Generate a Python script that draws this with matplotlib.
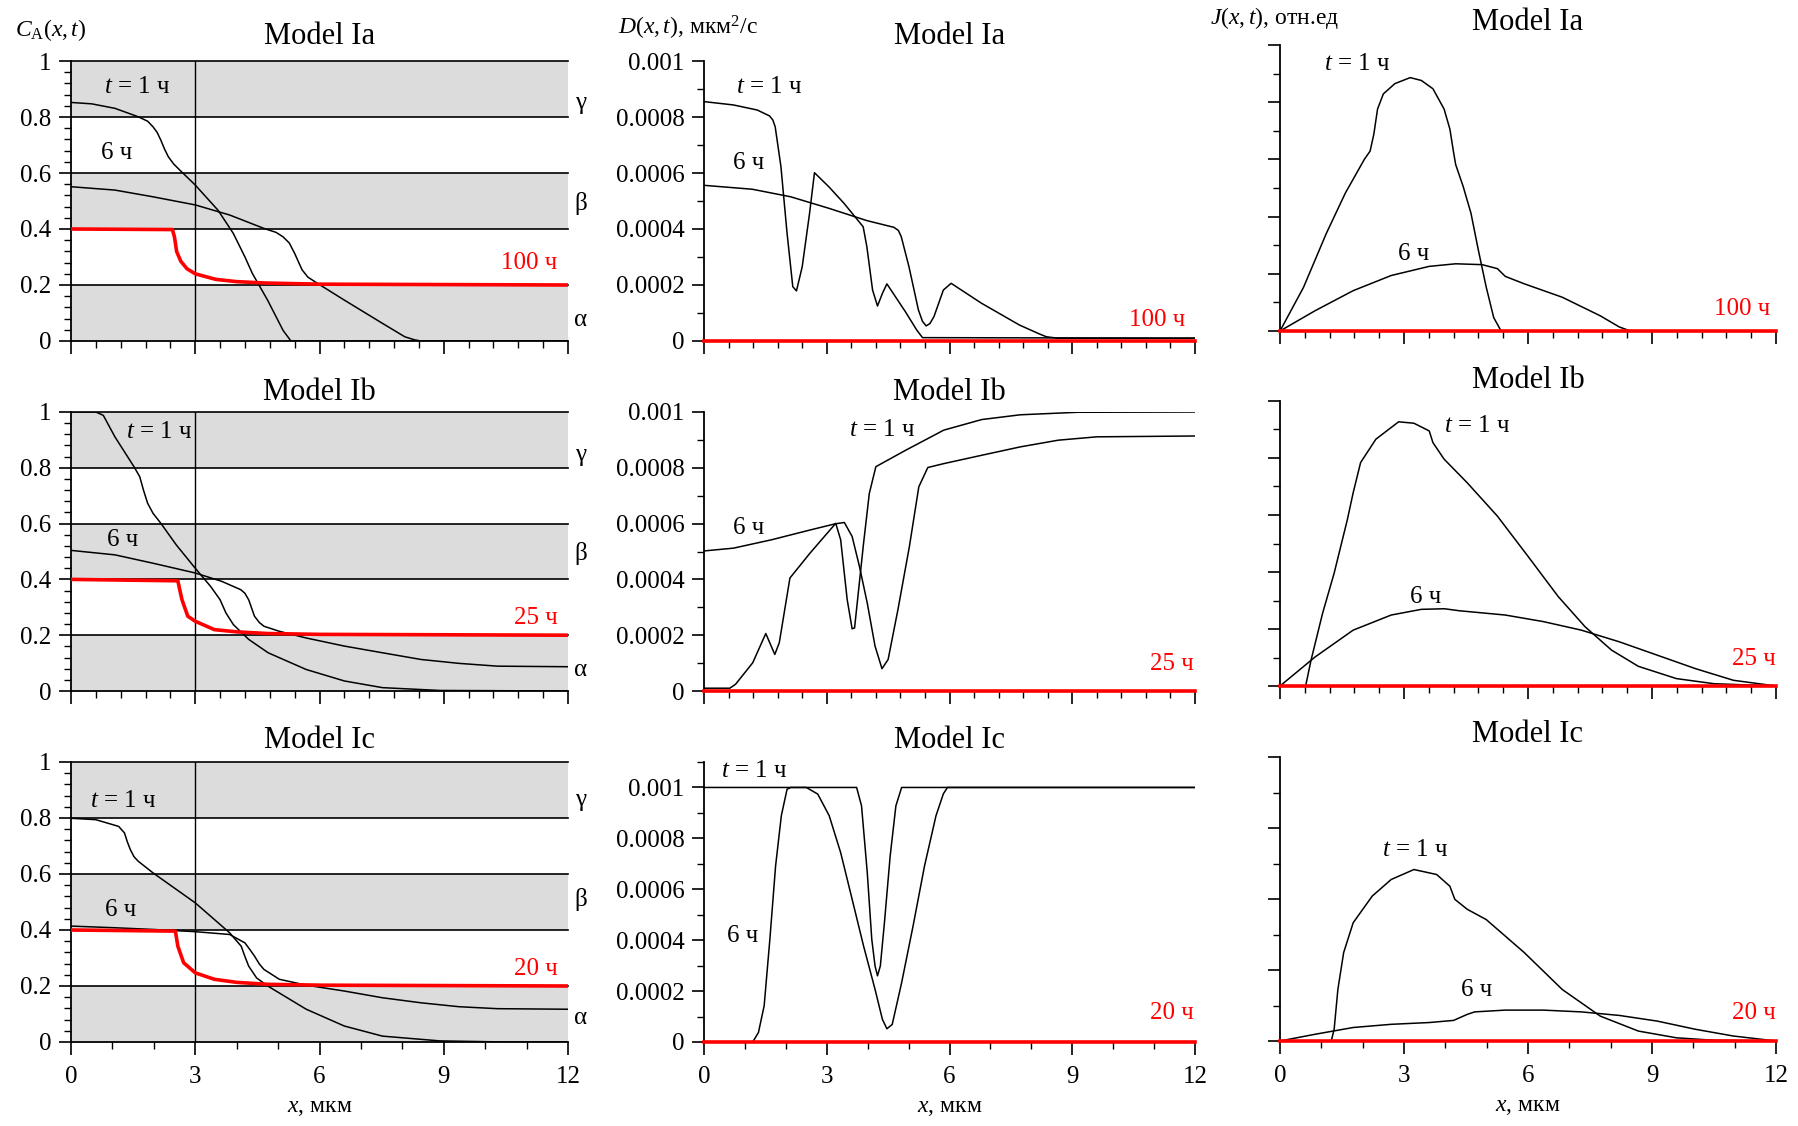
import numpy as np
import matplotlib.pyplot as plt
from matplotlib.ticker import MultipleLocator, FuncFormatter

plt.rcParams['font.family'] = ['Liberation Serif', 'DejaVu Serif']
plt.rcParams['mathtext.fontset'] = 'custom'
plt.rcParams['mathtext.rm'] = 'Liberation Serif'
plt.rcParams['mathtext.it'] = 'Liberation Serif:italic'

# ---------------- концентрация C_A(x,t) ----------------
ca_ia_1h_x = [0, 0.5, 1.06, 1.62, 1.85, 1.98, 2.08, 2.17, 2.26, 2.35, 2.48, 2.63, 3.0, 3.55, 3.92, 4.2, 4.38, 4.75, 5.12, 5.31, 12]
ca_ia_1h_y = [0.852, 0.847, 0.831, 0.801, 0.785, 0.765, 0.745, 0.717, 0.685, 0.658, 0.632, 0.610, 0.557, 0.467, 0.384,
              0.300, 0.241, 0.145, 0.038, 0.0, 0.0]
ca_ia_6h_x = [0, 1.06, 1.98, 3.0, 3.83, 4.66, 4.95, 5.12, 5.27, 5.4, 5.5, 5.58, 5.72, 5.95, 6.6, 7.52, 8.06, 8.3, 8.45, 12]
ca_ia_6h_y = [0.551, 0.539, 0.515, 0.486, 0.45, 0.402, 0.388, 0.372, 0.35, 0.313, 0.28, 0.254, 0.228, 0.206, 0.146,
              0.063, 0.015, 0.004, 0.0, 0.0]
ca_ia_100h_x = [0, 2.45, 2.5, 2.55, 2.65, 2.8, 3.0, 3.5, 4.0, 4.7, 6, 12]
ca_ia_100h_y = [0.40, 0.398, 0.37, 0.32, 0.285, 0.258, 0.24, 0.22, 0.212, 0.207, 0.203, 0.2]

ca_ib_1h_x = [0, 0.6, 0.78, 1.06, 1.52, 1.66, 1.75, 1.85, 1.98, 2.17, 2.54, 3.0, 3.37, 3.6, 3.74, 3.92, 4.29, 4.76,
              5.68, 6.6, 7.52, 8.9, 12]
ca_ib_1h_y = [1.0, 1.0, 0.988, 0.911, 0.804, 0.768, 0.72, 0.673, 0.637, 0.601, 0.524, 0.44, 0.375, 0.327, 0.28, 0.238,
              0.185, 0.137, 0.077, 0.036, 0.012, 0.002, 0.0]
ca_ib_6h_x = [0, 1.06, 1.98, 3.0, 3.64, 4.1, 4.2, 4.29, 4.43, 4.55, 4.66, 5.03, 5.68, 6.6, 7.52, 8.45, 9.37, 10.3, 12]
ca_ib_6h_y = [0.504, 0.488, 0.458, 0.423, 0.393, 0.363, 0.35, 0.327, 0.268, 0.245, 0.232, 0.214, 0.19, 0.161, 0.137,
              0.113, 0.099, 0.089, 0.087]
ca_ib_25h_x = [0, 2.58, 2.63, 2.68, 2.82, 3.0, 3.46, 4.0, 4.75, 6, 12]
ca_ib_25h_y = [0.40, 0.395, 0.36, 0.327, 0.268, 0.25, 0.22, 0.212, 0.206, 0.203, 0.2]

ca_ic_1h_x = [0, 0.6, 1.15, 1.29, 1.36, 1.43, 1.52, 1.62, 1.98, 3.0, 3.83, 4.11, 4.2, 4.29, 4.48, 4.75, 5.68, 6.6,
              7.52, 8.9, 10.5, 12]
ca_ic_1h_y = [0.799, 0.794, 0.77, 0.747, 0.715, 0.688, 0.662, 0.646, 0.604, 0.497, 0.39, 0.342, 0.305, 0.271, 0.229,
              0.2, 0.117, 0.057, 0.021, 0.004, 0.0, 0.0]
ca_ic_6h_x = [0, 1.06, 1.98, 3.0, 3.83, 4.2, 4.32, 4.43, 4.55, 4.66, 5.03, 5.68, 6.6, 7.52, 8.45, 9.37, 10.3, 12]
ca_ic_6h_y = [0.414, 0.408, 0.402, 0.394, 0.384, 0.354, 0.33, 0.307, 0.278, 0.259, 0.224, 0.203, 0.182, 0.158, 0.14,
              0.126, 0.119, 0.117]
ca_ic_20h_x = [0, 2.52, 2.58, 2.72, 3.0, 3.46, 4.0, 4.75, 6, 12]
ca_ic_20h_y = [0.40, 0.396, 0.342, 0.283, 0.247, 0.224, 0.213, 0.206, 0.203, 0.2]

# ---------------- коэффициент диффузии D(x,t), мкм^2/с ----------------
d_ia_1h_x = [0, 0.72, 1.3, 1.6, 1.68, 1.74, 1.88, 2.03, 2.17, 2.26, 2.4, 2.58, 2.7, 3.05, 3.42, 3.89, 3.98, 4.12, 4.24,
             4.36, 4.47, 4.92, 5.2, 5.34, 12]
d_ia_1h_y = [0.000855, 0.000843, 0.000825, 0.000804, 0.00079, 0.000765, 0.000623, 0.000385, 0.000194, 0.000179, 0.000265,
             0.000456, 0.000601, 0.000551, 0.000492, 0.000408, 0.000337, 0.000182, 0.000125, 0.00017, 0.000204, 0.000105,
             0.000039, 0.000012, 0.00001]
d_ia_6h_x = [0, 1.18, 2.12, 3.05, 3.98, 4.64, 4.75, 4.82, 5.01, 5.24, 5.34, 5.43, 5.52, 5.62, 5.85, 6.04, 6.78, 7.71,
             8.2, 8.37, 8.65, 12]
d_ia_6h_y = [0.000556, 0.000542, 0.000515, 0.000474, 0.00043, 0.000406, 0.000395, 0.000373, 0.000265, 0.000111, 0.00007,
             0.000054, 0.000062, 0.000087, 0.000182, 0.000206, 0.000135, 0.000057, 0.000025, 0.000015, 0.00001, 0.00001]

d_ib_1h_x = [0, 0.63, 0.77, 1.19, 1.51, 1.73, 1.84, 2.1, 2.59, 3.22, 3.34, 3.5, 3.62, 3.68, 3.9, 4.04, 4.2, 4.93,
             5.86, 6.79, 7.73, 9.13, 12]
d_ib_1h_y = [0.00001, 0.00001, 0.000024, 0.000101, 0.000206, 0.000131, 0.000173, 0.000405, 0.000494, 0.000601, 0.000542,
             0.000327, 0.000223, 0.000226, 0.00053, 0.000708, 0.000804, 0.000863, 0.000935, 0.000973, 0.00099, 0.000999,
             0.001]
d_ib_6h_x = [0, 0.72, 1.65, 2.59, 3.2, 3.43, 3.62, 3.8, 3.99, 4.18, 4.35, 4.5, 4.74, 5.02, 5.25, 5.47, 5.86, 6.79,
             7.73, 8.66, 9.6, 12]
d_ib_6h_y = [0.000502, 0.000512, 0.000542, 0.000577, 0.000599, 0.000604, 0.000554, 0.000446, 0.000315, 0.000161,
             0.00008, 0.000113, 0.000292, 0.000518, 0.000732, 0.000801, 0.000815, 0.000845, 0.000875, 0.000899,
             0.000911, 0.000914]

d_ic_1h_x = [0, 3.73, 3.85, 3.99, 4.1, 4.18, 4.24, 4.31, 4.41, 4.55, 4.69, 4.83, 12]
d_ic_1h_y = [0.001, 0.001, 0.000928, 0.000666, 0.000404, 0.000299, 0.00026, 0.000299, 0.000469, 0.000731, 0.000928,
             0.001, 0.001]
d_ic_6h_x = [0, 1.19, 1.33, 1.47, 1.61, 1.75, 1.89, 2.03, 2.12, 2.5, 2.78, 3.06, 3.34, 3.62, 3.9, 4.18, 4.36, 4.47,
             4.6, 4.83, 5.11, 5.39, 5.67, 5.85, 5.95, 12]
d_ic_6h_y = [0, 0, 0.000037, 0.000142, 0.000404, 0.000692, 0.000889, 0.000993, 0.001, 0.001, 0.000974, 0.000889,
             0.000744, 0.000561, 0.000377, 0.000207, 0.000089, 0.000052, 0.000069, 0.000233, 0.000456, 0.000692,
             0.000889, 0.000975, 0.001, 0.001]

# ---------------- поток J(x,t), отн.ед ----------------
j_ia_1h_x = [0, 0.57, 1.12, 1.58, 2.04, 2.18, 2.27, 2.36, 2.5, 2.78, 3.15, 3.42, 3.7, 3.97, 4.11, 4.2, 4.25, 4.43,
             4.62, 4.8, 4.99, 5.17, 5.35, 12]
j_ia_1h_y = [0, 1.53, 3.41, 4.82, 6.0, 6.29, 6.88, 7.76, 8.29, 8.65, 8.86, 8.76, 8.47, 7.76, 7.06, 6.24, 5.82, 5.06,
             4.12, 2.82, 1.53, 0.47, 0, 0]
j_ia_6h_x = [0, 0.85, 1.77, 2.69, 3.61, 4.25, 4.89, 5.26, 5.45, 5.91, 6.83, 7.75, 8.21, 8.48, 12]
j_ia_6h_y = [0, 0.71, 1.41, 1.94, 2.26, 2.35, 2.32, 2.18, 1.91, 1.65, 1.18, 0.53, 0.14, 0, 0]

j_ib_1h_x = [0, 0.62, 0.75, 1.03, 1.31, 1.63, 1.77, 1.95, 2.32, 2.87, 3.24, 3.61, 3.7, 3.97, 4.53, 5.26, 6.0, 6.73,
             7.38, 8.02, 8.67, 9.59, 10.5, 12]
j_ib_1h_y = [0, 0, 0.9, 2.55, 3.96, 5.84, 6.78, 7.84, 8.66, 9.27, 9.22, 8.95, 8.54, 7.96, 7.13, 5.96, 4.55, 3.14, 2.08,
             1.26, 0.69, 0.26, 0.08, 0]
j_ib_6h_x = [0, 0.85, 1.77, 2.69, 3.42, 3.98, 4.34, 5.45, 6.37, 7.29, 8.21, 9.13, 10.05, 10.97, 12]
j_ib_6h_y = [0, 1.02, 1.96, 2.49, 2.69, 2.71, 2.64, 2.49, 2.26, 1.96, 1.55, 1.08, 0.61, 0.2, 0]

j_ic_1h_x = [0, 1.24, 1.31, 1.4, 1.54, 1.77, 2.23, 2.69, 3.24, 3.79, 4.11, 4.23, 4.53, 4.99, 5.91, 6.83, 7.75, 8.67,
             9.59, 10.5, 12]
j_ic_1h_y = [0, 0, 0.33, 1.45, 2.49, 3.33, 4.08, 4.55, 4.83, 4.69, 4.36, 3.99, 3.71, 3.42, 2.49, 1.45, 0.7, 0.28,
             0.09, 0.02, 0]
j_ic_6h_x = [0, 0.85, 1.77, 2.69, 3.61, 4.2, 4.53, 4.71, 5.45, 6.37, 7.29, 8.21, 9.13, 10.05, 10.97, 12]
j_ic_6h_y = [0, 0.19, 0.38, 0.47, 0.52, 0.58, 0.75, 0.82, 0.87, 0.87, 0.82, 0.72, 0.56, 0.33, 0.14, 0]

# поздний момент времени: D и J равны нулю
late_x = [0, 12]
late_y = [0, 0]

models = ['Model Ia', 'Model Ib', 'Model Ic']
late_times = ['100 ч', '25 ч', '20 ч']

W, H = 1798, 1126
fig = plt.figure(figsize=(W / 100, H / 100), dpi=100)


def box(x0, x1, top, bottom):
    return [x0 / W, 1 - bottom / H, (x1 - x0) / W, (bottom - top) / H]


FS = 18
cols = [(71, 568), (704, 1195), (1280, 1776)]
rows_lm = [(61, 341), (412, 691), (762, 1042)]
rows_r = [(45, 331), (401, 686), (757, 1041)]
title_gap = [25, 20, 22]
title_gap_r = [23, 20, 22]
fmt = FuncFormatter(lambda v, p: f'{round(v, 6):g}')


def style(ax, row, minor_x):
    for s in ['top', 'right']:
        ax.spines[s].set_visible(False)
    for s in ['left', 'bottom']:
        ax.spines[s].set_linewidth(1.3)
    ax.set_xlim(0, 12)
    ax.xaxis.set_major_locator(MultipleLocator(3))
    ax.xaxis.set_minor_locator(MultipleLocator(minor_x))
    ax.tick_params(which='major', direction='out', length=9, width=1.2, labelsize=FS, pad=5)
    ax.tick_params(which='minor', direction='out', length=5, width=1.0)
    ax.tick_params(axis='x', pad=8)
    if row < 2:
        ax.tick_params(axis='x', labelbottom=False)
    else:
        ax.set_xlabel('$x$, мкм', fontsize=FS - 1, labelpad=7)


def title(ax, text, gap_px, height_px):
    ax.text(0.5, 1 + gap_px / height_px, text, transform=ax.transAxes,
            fontsize=22, ha='center', va='center')


curves_c = [(ca_ia_1h_x, ca_ia_1h_y, ca_ia_6h_x, ca_ia_6h_y, ca_ia_100h_x, ca_ia_100h_y),
            (ca_ib_1h_x, ca_ib_1h_y, ca_ib_6h_x, ca_ib_6h_y, ca_ib_25h_x, ca_ib_25h_y),
            (ca_ic_1h_x, ca_ic_1h_y, ca_ic_6h_x, ca_ic_6h_y, ca_ic_20h_x, ca_ic_20h_y)]
curves_d = [(d_ia_1h_x, d_ia_1h_y, d_ia_6h_x, d_ia_6h_y),
            (d_ib_1h_x, d_ib_1h_y, d_ib_6h_x, d_ib_6h_y),
            (d_ic_1h_x, d_ic_1h_y, d_ic_6h_x, d_ic_6h_y)]
curves_j = [(j_ia_1h_x, j_ia_1h_y, j_ia_6h_x, j_ia_6h_y),
            (j_ib_1h_x, j_ib_1h_y, j_ib_6h_x, j_ib_6h_y),
            (j_ic_1h_x, j_ic_1h_y, j_ic_6h_x, j_ic_6h_y)]

# подписи кривых: (x, y) для "t = 1 ч", "6 ч", поздний момент (правый край)
lab_c = [((1.6, 0.906), (1.1, 0.67), 0.277), ((2.12, 0.929), (1.25, 0.54), 0.262), ((1.25, 0.86), (1.2, 0.473), 0.259)]
lab_d = [((1.6, 0.000908), (1.09, 0.000635), 0.000075), ((4.36, 0.000935), (1.09, 0.000583), 0.000095),
         ((1.23, 0.001066), (0.95, 0.000417), 0.000115)]
lab_j = [((1.86, 9.35), (3.24, 2.7), 0.76), ((4.78, 9.13), (3.53, 3.14), 0.96), ((3.26, 5.39), (4.76, 1.45), 0.8)]
greek_y = [(0.85, 0.49, 0.075), (0.845, 0.494, 0.077), (0.866, 0.509, 0.087)]

for r in range(3):
    minor_x = 1.0 if r == 2 else 0.6

    # ---- C_A ----
    top, bot = rows_lm[r]
    ax = fig.add_axes(box(*cols[0], top, bot))
    ax.set_ylim(0, 1)
    for lo, hi in [(0, 0.2), (0.4, 0.6), (0.8, 1.0)]:
        ax.axhspan(lo, hi, color='#dcdcdc', lw=0, zorder=0)
    for yv in [0.2, 0.4, 0.6, 0.8, 1.0]:
        ax.axhline(yv, color='black', lw=1.2, zorder=1, clip_on=False)
    ax.axvline(3, color='black', lw=1.0, zorder=1)
    x1, y1, x6, y6, xl, yl = curves_c[r]
    ax.plot(x1, y1, color='black', lw=1.1, zorder=3)
    ax.plot(x6, y6, color='black', lw=1.1, zorder=3)
    ax.plot(xl, yl, color='red', lw=2.6, zorder=4)
    style(ax, r, minor_x)
    ax.yaxis.set_major_locator(MultipleLocator(0.2))
    ax.yaxis.set_minor_locator(MultipleLocator(0.04))
    ax.yaxis.set_major_formatter(fmt)
    (tx, ty), (sx, sy), ly = lab_c[r]
    ax.text(tx, ty, '$t$ = 1 ч', fontsize=FS, ha='center', va='center', zorder=5)
    ax.text(sx, sy, '6 ч', fontsize=FS, ha='center', va='center', zorder=5)
    ax.text(11.75, ly, late_times[r], fontsize=FS, color='red', ha='right', va='center', zorder=5)
    for g, gy in zip(['γ', 'β', 'α'], greek_y[r]):
        ax.text(12.3, gy, g, fontsize=FS, ha='center', va='center', clip_on=False)
    title(ax, models[r], title_gap[r], bot - top)

    # ---- D ----
    ax = fig.add_axes(box(*cols[1], top, bot))
    ax.set_ylim(0, 0.0011 if r == 2 else 0.001)
    x1, y1, x6, y6 = curves_d[r]
    ax.plot(x1, y1, color='black', lw=1.1, zorder=3)
    ax.plot(x6, y6, color='black', lw=1.1, zorder=3)
    ax.plot(late_x, late_y, color='red', lw=2.6, zorder=4, clip_on=False)
    style(ax, r, minor_x)
    ax.yaxis.set_major_locator(MultipleLocator(0.0002))
    ax.yaxis.set_minor_locator(MultipleLocator(0.0001))
    ax.yaxis.set_major_formatter(fmt)
    (tx, ty), (sx, sy), ly = lab_d[r]
    ax.text(tx, ty, '$t$ = 1 ч', fontsize=FS, ha='center', va='center', clip_on=False)
    ax.text(sx, sy, '6 ч', fontsize=FS, ha='center', va='center')
    ax.text(11.98 if r else 11.75, ly, late_times[r], fontsize=FS, color='red', ha='right', va='center')
    title(ax, models[r], title_gap[r], bot - top)

    # ---- J ----
    top, bot = rows_r[r]
    ax = fig.add_axes(box(*cols[2], top, bot))
    ax.set_ylim(0, 8 if r == 2 else 10)
    x1, y1, x6, y6 = curves_j[r]
    ax.plot(x1, y1, color='black', lw=1.1, zorder=3)
    ax.plot(x6, y6, color='black', lw=1.1, zorder=3)
    ax.plot(late_x, late_y, color='red', lw=2.6, zorder=4, clip_on=False)
    style(ax, r, minor_x)
    ax.yaxis.set_major_locator(MultipleLocator(2))
    ax.yaxis.set_minor_locator(MultipleLocator(1))
    ax.tick_params(axis='y', labelleft=False)
    (tx, ty), (sx, sy), ly = lab_j[r]
    ax.text(tx, ty, '$t$ = 1 ч', fontsize=FS, ha='center', va='center')
    ax.text(sx, sy, '6 ч', fontsize=FS, ha='center', va='center')
    ax.text(11.85 if r == 0 else 12, ly, late_times[r], fontsize=FS, color='red', ha='right', va='center')
    title(ax, models[r], title_gap_r[r], bot - top)

# подписи осей ординат
fig.text(15 / W, 1 - 30 / H, '$C_{\\mathrm{A}}(x,t)$', fontsize=FS - 1, ha='left', va='center')
fig.text(618 / W, 1 - 28 / H, '$D(x,t)$, мкм$^2$/с', fontsize=FS - 1, ha='left', va='center')
fig.text(1210 / W, 1 - 18 / H, '$J(x,t)$, отн.ед', fontsize=FS - 1, ha='left', va='center')

fig.savefig('out.png', dpi=100)
